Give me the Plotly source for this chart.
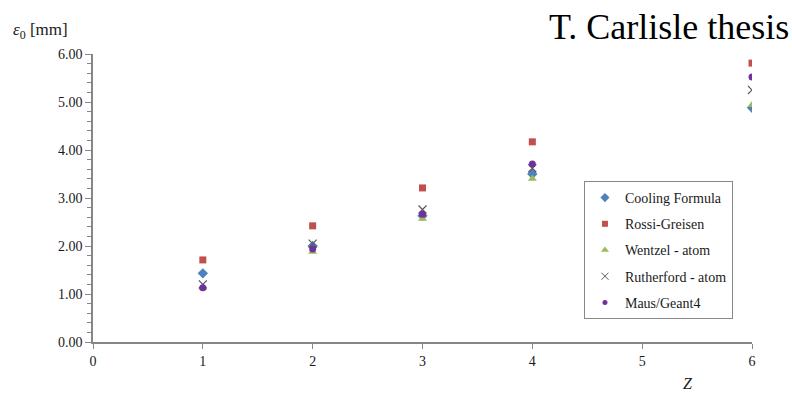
import plotly.graph_objects as go

Z = [1, 2, 3, 4, 6]
cooling = [1.43, 2.00, 2.63, 3.50, 4.88]
rossi = [1.71, 2.42, 3.21, 4.17, 5.81]
wentzel = [1.13, 1.88, 2.57, 3.40, 4.94]
rutherford = [1.20, 2.05, 2.76, 3.62, 5.25]
maus = [1.13, 1.94, 2.66, 3.71, 5.52]

series = [
    ("Cooling Formula", cooling, "diamond", "#4F81BD", 8, 7),
    ("Rossi-Greisen", rossi, "square", "#C0504D", 7, 6),
    ("Wentzel - atom", wentzel, "triangle-up", "#9BBB59", 8, 7),
    ("Rutherford - atom", rutherford, "x-thin", "#5A5A5A", 8, 7),
    ("Maus/Geant4", maus, "circle", "#7030A0", 7, 5),
]

fig = go.Figure()
for i, (name, vals, sym, col, sz, lsz) in enumerate(series):
    marker = dict(symbol=sym, color=col, size=sz)
    lmarker = dict(symbol=sym, color=col, size=lsz)
    if sym == "x-thin":
        marker["line"] = dict(color=col, width=1.2)
        lmarker["line"] = dict(color=col, width=1)
    fig.add_trace(go.Scatter(x=Z, y=vals, mode="markers", name=name,
                             marker=marker, showlegend=False))
    # legend-only proxy with smaller symbol
    fig.add_trace(go.Scatter(x=[None], y=[None], mode="markers", name=name,
                             marker=lmarker, legendgroup=f"g{i}"))

serif = "Liberation Serif, DejaVu Serif, serif"
txt = "#1a1a1a"
fig.update_layout(
    width=792, height=395,
    margin=dict(l=93, r=40, t=54, b=53),
    plot_bgcolor="white", paper_bgcolor="white",
    font=dict(family=serif, size=14, color=txt),
    showlegend=True,
    legend=dict(x=0.745, y=0.559, xanchor="left", yanchor="top",
                bordercolor="#888", borderwidth=1, bgcolor="white",
                font=dict(family=serif, size=14, color=txt),
                tracegroupgap=5, itemwidth=30),
    xaxis=dict(range=[0, 6], dtick=1, showgrid=False, zeroline=False,
               showline=True, linecolor="#868686", linewidth=1.5,
               ticks="outside", ticklen=5, tickcolor="#868686",
               tickfont=dict(family=serif, size=14, color=txt)),
    yaxis=dict(range=[0, 6], dtick=1, tickformat=".2f", showgrid=False,
               zeroline=False, showline=True, linecolor="#868686", linewidth=1.5,
               ticks="outside", ticklen=6, tickcolor="#868686",
               minor=dict(dtick=0.2, ticks="outside", ticklen=4, tickcolor="#868686"),
               tickfont=dict(family=serif, size=14, color=txt)),
)

pw = 792 - 93 - 40
ph = 395 - 54 - 53
def px(x): return (x - 93) / pw
def py(y): return (342 - y) / ph

fig.add_annotation(text="<i>ε</i><sub>0</sub> [mm]", x=px(11), y=py(31),
                   xref="paper", yref="paper", xanchor="left", yanchor="middle",
                   showarrow=False, font=dict(family=serif, size=17, color=txt))
fig.add_annotation(text="<i>Z</i>", x=px(688), y=py(383),
                   xref="paper", yref="paper", xanchor="center", yanchor="middle",
                   showarrow=False, font=dict(family=serif, size=16, color=txt))
fig.add_annotation(text="T. Carlisle thesis", x=px(791), y=py(27),
                   xref="paper", yref="paper", xanchor="right", yanchor="middle",
                   showarrow=False, font=dict(family=serif, size=36, color="#000"))

fig.write_html("out.html")
